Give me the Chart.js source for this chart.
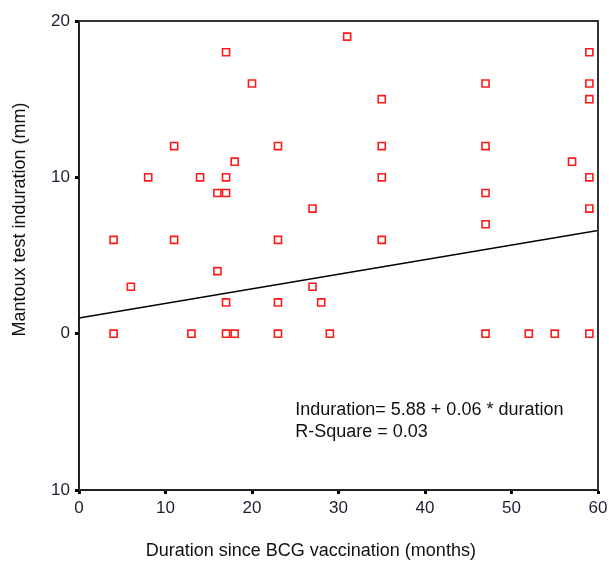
<!DOCTYPE html>
<html>
<head>
<meta charset="utf-8">
<script src="https://cdn.jsdelivr.net/npm/chart.js@4"></script>
<style>
  html, body { margin: 0; padding: 0; background: #fff; }
  #wrap { width: 609px; height: 563px; }
</style>
</head>
<body>
<div id="wrap"><canvas id="scatter-chart"></canvas></div>
<script>
// months since BCG vaccination / induration (mm)
var durations = [4, 4, 6, 8, 11, 11, 13, 14, 16, 16, 17, 17, 17, 17, 17, 18, 18, 20, 23, 23, 23, 23,
                 27, 27, 28, 29, 31, 35, 35, 35, 35, 47, 47, 47, 47, 47, 52, 55, 57, 59, 59, 59, 59, 59, 59];
var indurations = [6, 0, 3, 10, 12, 6, 0, 10, 9, 4, 18, 10, 9, 2, 0, 11, 0, 16, 12, 6, 2, 0,
                   8, 3, 2, 0, 19, 15, 12, 10, 6, 16, 12, 9, 7, 0, 0, 0, 11, 18, 16, 15, 10, 8, 0];
// fitted line end points
var fitX = [0, 60];
var fitY = [1.0, 6.6];
var xTicks = [0, 10, 20, 30, 40, 50, 60];
var yTicks = [-10, 0, 10, 20];
var yTickLabels = ["10", "0", "10", "20"];
var xTitle = "Duration since BCG vaccination (months)";
var yTitle = "Mantoux test induration (mm)";
var noteLines = ["Induration= 5.88 + 0.06 * duration", "R-Square = 0.03"];

var points = durations.map(function (d, i) { return { x: d, y: indurations[i] }; });
var fitPoints = fitX.map(function (d, i) { return { x: d, y: fitY[i] }; });

Chart.defaults.font.family = "'Liberation Sans', Arial, sans-serif";

var boxPlugin = {
  id: 'box',
  afterDatasetsDraw: function (chart) {
    var a = chart.chartArea, c = chart.ctx;
    c.save();
    c.strokeStyle = '#333';
    c.lineWidth = 2;
    c.beginPath();
    c.moveTo(a.left, a.top);
    c.lineTo(a.right, a.top);
    c.lineTo(a.right, a.bottom);
    c.stroke();
    var xs = chart.scales.x, ys = chart.scales.y;
    c.fillStyle = '#111';
    c.font = "18px 'Liberation Sans', Arial, sans-serif";
    c.textBaseline = 'middle';
    // equation text
    c.fillText(noteLines[0], xs.getPixelForValue(25), ys.getPixelForValue(-4.9));
    c.fillText(noteLines[1], xs.getPixelForValue(25), ys.getPixelForValue(-6.3));
    // axis titles (sit a little off-centre in the original)
    c.textAlign = 'center';
    c.fillText(xTitle, xs.getPixelForValue(26.8), 551);
    c.translate(20, ys.getPixelForValue(7.3));
    c.rotate(-Math.PI / 2);
    c.fillText(yTitle, 0, 0);
    c.restore();
  }
};

var ctx = document.getElementById('scatter-chart');
var chart = new Chart(ctx, {
  type: 'scatter',
  data: {
    datasets: [
      {
        label: 'Induration',
        data: points,
        pointStyle: 'rect',
        pointRadius: 5,
        pointBorderWidth: 1.6,
        pointBorderColor: '#ff1a1a',
        pointBackgroundColor: '#fff',
        order: 1
      },
      {
        label: 'Fit',
        type: 'line',
        data: fitPoints,
        borderColor: '#000',
        borderWidth: 1.5,
        pointRadius: 0,
        fill: false,
        order: 2
      }
    ]
  },
  options: {
    responsive: true,
    maintainAspectRatio: false,
    animation: false,
    layout: { padding: { top: 21, right: 11, left: 0, bottom: 0 } },
    plugins: { legend: { display: false }, tooltip: { enabled: false } },
    scales: {
      x: {
        type: 'linear',
        min: 0, max: 60,
        afterBuildTicks: function (s) { s.ticks = xTicks.map(function (v) { return { value: v }; }); },
        afterFit: function (s) { s.height = 73; s.paddingRight = 0; },
        grid: { drawOnChartArea: false, tickLength: 4, tickWidth: 3, tickColor: '#000' },
        border: { color: '#222', width: 2 },
        ticks: { color: '#1e1e33', font: { size: 17 }, padding: 4, maxRotation: 0 }
      },
      y: {
        min: -10, max: 20,
        afterBuildTicks: function (s) { s.ticks = yTicks.map(function (v) { return { value: v }; }); },
        afterFit: function (s) { s.width = 79; },
        grid: { drawOnChartArea: false, tickLength: 4, tickWidth: 3, tickColor: '#000' },
        border: { color: '#222', width: 2 },
        ticks: {
          color: '#1e1e33',
          font: { size: 17 },
          padding: 5,
          callback: function (v) { return yTickLabels[yTicks.indexOf(v)]; }
        }
      }
    }
  },
  plugins: [boxPlugin]
});
</script>
</body>
</html>
